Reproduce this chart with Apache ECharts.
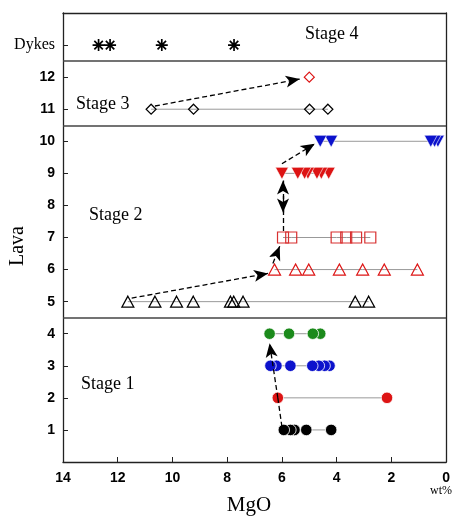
<!DOCTYPE html>
<html><head><meta charset="utf-8">
<script src="https://cdn.jsdelivr.net/npm/echarts@6/dist/echarts.min.js"></script>
<style>html,body{margin:0;padding:0;background:#fff}#c{width:453px;height:518px}</style>
</head><body><div id="c"></div>
<script>
// ---- data (MgO wt%) ----
const yLabels = ['', '1','2','3','4','5','6','7','8','9','10','11','12','Dykes',''];
const stageNames = ['Stage 1','Stage 2','Stage 3','Stage 4'];
const stageBounds = [4.5, 10.5, 12.5];
const dykes  = [12.70, 12.28, 10.39, 7.75];
const lava12 = [5.0];
const lava11 = [10.78, 9.23, 4.99, 4.32];
const lava10 = [4.60, 4.20, 0.56, 0.42, 0.30];
const lava9  = [6.0, 5.42, 5.17, 5.05, 4.72, 4.56, 4.29];
const lava7  = [5.96, 5.66, 4.0, 3.65, 3.29, 2.77];
const lava6  = [6.27, 5.5, 5.02, 3.90, 3.05, 2.26, 1.05];
const lava5  = [11.63, 10.64, 9.85, 9.24, 7.88, 7.76, 7.42, 3.32, 2.83];
const lava4  = [6.45, 5.74, 4.87, 4.6];
const lava3  = [6.42, 6.2, 5.69, 4.89, 4.65, 4.44, 4.26];
const lava2  = [6.15, 2.16];
const lava1  = [5.93, 5.69, 5.54, 5.11, 4.2];
// trend arrows: [x1,y1,x2,y2,headAtEnd,dashed]
const arrows = [
  [6.0, 1.1, 6.15, 2.0, false, true],
  [6.15, 2.0, 6.45, 3.7, true, true],
  [11.49, 5.11, 6.51, 5.88, true, true],
  [6.33, 6.19, 6.08, 6.73, true, true],
  [5.96, 7.2, 5.96, 8.78, true, true],
  [5.96, 8.3, 5.96, 7.78, true, false],
  [6.0, 9.3, 4.8, 9.92, true, true],
  [10.64, 11.1, 5.35, 11.94, true, true]
];

const RED = '#dd1414', BLUE = '#0c12cc', GREEN = '#1b8a1b', BLACK = '#000';
const STAR = 'path://M0 43L100 43L100 57L0 57Z M43 0L57 0L57 100L43 100Z M9.7 19.6L19.6 9.7L90.3 80.4L80.4 90.3Z M9.7 80.4L80.4 9.7L90.3 19.6L19.6 90.3Z';

function row(vals, y, opt) {
  const d = vals.slice().sort((a,b)=>a-b).map(v=>[v,y]);
  return {
    type: 'line', data: d, silent: true, animation: false,
    lineStyle: {color: opt.noLine ? 'transparent' : '#999', width: 1},
    symbol: opt.symbol, symbolSize: opt.size, symbolRotate: opt.rotate || 0,
    itemStyle: opt.item, z: 3
  };
}
const circle = c => ({symbol:'circle', size:11.5, item:{color:c, borderColor:'#fff', borderWidth:0.8}});
const hollow = (sym, c, size) => ({symbol:sym, size:size, item:{color:'transparent', borderColor:c, borderWidth:1.2}});
const downTri = c => ({symbol:'triangle', size:[13,12], rotate:180, item:{color:c, borderColor:'#fff', borderWidth:0.6}});

const series = [
  row(dykes, 13, {symbol:STAR, size:12, item:{color:BLACK}, noLine:true}),
  row(lava12, 12, hollow('diamond', RED, [10,10])),
  row(lava11, 11, hollow('diamond', BLACK, [10,10])),
  row(lava10, 10, downTri(BLUE)),
  row(lava9, 9, downTri(RED)),
  row(lava7, 7, hollow('rect', '#d83030', 11)),
  row(lava6, 6, hollow('triangle', RED, [12,11])),
  row(lava5, 5, hollow('triangle', BLACK, [12,11])),
  row(lava4, 4, circle(GREEN)),
  row(lava3, 3, circle(BLUE)),
  row(lava2, 2, circle(RED)),
  row(lava1, 1, circle(BLACK)),
  {
    type: 'line', data: [], silent: true, z: 2,
    markLine: {
      silent: true, symbol: 'none', animation: false,
      label: {show: false},
      lineStyle: {color: '#444', width: 1.5, type: 'solid'},
      data: stageBounds.map(v => ({yAxis: v}))
    }
  },
  {
    type: 'line', data: [], silent: true, z: 4,
    markLine: {
      silent: true, animation: false, label: {show: false},
      symbolSize: [9, 14],
      data: arrows.map(a => [
        {coord: [a[0], a[1]], symbol: 'none',
         lineStyle: {color: '#000', width: 1.3, type: a[5] ? [5,3] : 'solid'}},
        {coord: [a[2], a[3]], symbol: a[4] ? 'arrow' : 'none'}
      ])
    }
  }
];

const axisLineStyle = {show: true, onZero: false, lineStyle: {color: '#222', width: 1.3}};
const chart = echarts.init(document.getElementById('c'), null, {renderer: 'canvas'});
chart.setOption({
  animation: false,
  backgroundColor: '#fff',
  grid: {left: 63, right: 6, top: 13, bottom: 56, show: false, containLabel: false},
  xAxis: [{
    type: 'value', min: 0, max: 14, interval: 2, inverse: true, position: 'bottom',
    axisLine: axisLineStyle,
    axisTick: {show: true, inside: true, length: 5, lineStyle: {color: '#222'}},
    axisLabel: {margin: 9, color: '#000', fontFamily: 'Liberation Sans', fontWeight: 'bold', fontSize: 14},
    splitLine: {show: false}
  }, {
    type: 'value', min: 0, max: 14, inverse: true, position: 'top',
    axisLine: axisLineStyle, axisTick: {show: false}, axisLabel: {show: false}, splitLine: {show: false}
  }],
  yAxis: [{
    type: 'value', min: 0, max: 14, interval: 1, position: 'left',
    axisLine: axisLineStyle,
    axisTick: {show: true, inside: true, length: 5, lineStyle: {color: '#222'}},
    axisLabel: {
      margin: 8, color: '#000',
      formatter: v => { const s = yLabels[Math.round(v)] || ''; if (!s) return ''; return s === 'Dykes' ? '{d|' + s + '}' : '{n|' + s + '}'; },
      rich: {
        n: {fontFamily: 'Liberation Sans', fontWeight: 'bold', fontSize: 14, color: '#000'},
        d: {fontFamily: 'Liberation Serif', fontSize: 16, color: '#000'}
      }
    },
    splitLine: {show: false}
  }, {
    type: 'value', min: 0, max: 14, position: 'right',
    axisLine: axisLineStyle, axisTick: {show: false}, axisLabel: {show: false}, splitLine: {show: false}
  }],
  graphic: [
    {type:'text', left: 305, top: 25, style:{text: stageNames[3], font: '18px "Liberation Serif"', fill:'#000'}},
    {type:'text', left: 76, top: 95, style:{text: stageNames[2], font: '18px "Liberation Serif"', fill:'#000'}},
    {type:'text', left: 89, top: 206, style:{text: stageNames[1], font: '18px "Liberation Serif"', fill:'#000'}},
    {type:'text', left: 81, top: 375, style:{text: stageNames[0], font: '18px "Liberation Serif"', fill:'#000'}},
    {type:'text', x: 18, y: 246, rotation: Math.PI/2, style:{text:'Lava', font:'20px "Liberation Serif"', fill:'#000', textAlign:'center', textVerticalAlign:'middle'}},
    {type:'text', x: 249, y: 505, style:{text:'MgO', font:'21px "Liberation Serif"', fill:'#000', textAlign:'center', textVerticalAlign:'middle'}},
    {type:'text', x: 430, y: 491, style:{text:'wt%', font:'12px "Liberation Serif"', fill:'#000', textAlign:'left', textVerticalAlign:'middle'}}
  ],
  series: series
});
</script></body></html>
